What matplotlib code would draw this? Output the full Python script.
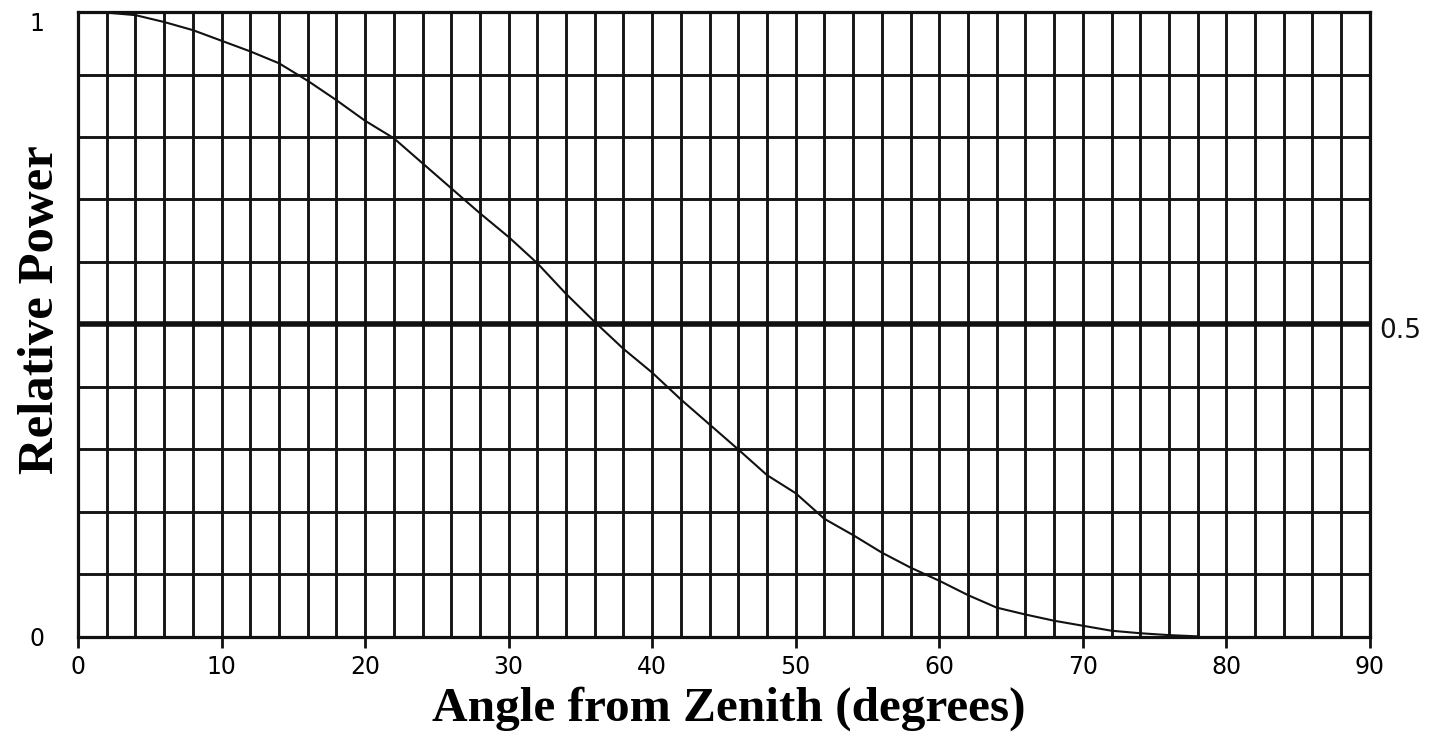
import matplotlib
matplotlib.use("Agg")
import matplotlib.pyplot as plt
import matplotlib.transforms as mtransforms

# Data
angle_deg = [0, 2, 4, 6, 8, 10, 12, 14, 16, 18, 20, 22, 24, 26, 28, 30, 32, 34,
             36, 38, 40, 42, 44, 46, 48, 50, 52, 54, 56, 58, 60, 62, 64, 66,
             68, 70, 72, 74, 76, 78]
rel_power = [1.0, 0.999, 0.995, 0.984, 0.971, 0.954, 0.937, 0.918, 0.89,
             0.859, 0.826, 0.798, 0.758, 0.718, 0.678, 0.64, 0.598, 0.549,
             0.504, 0.461, 0.423, 0.38, 0.34, 0.30, 0.259, 0.23, 0.189, 0.163,
             0.135, 0.111, 0.09, 0.067, 0.047, 0.036, 0.026, 0.018, 0.010,
             0.006, 0.003, 0.001]

x_major = [0, 10, 20, 30, 40, 50, 60, 70, 80, 90]
x_minor = list(range(0, 91, 2))
y_grid = [0, 0.1, 0.2, 0.3, 0.4, 0.5, 0.6, 0.7, 0.8, 0.9, 1.0]
y_labels = {0: "0", 1.0: "1"}
half_level = 0.5

fig = plt.figure(figsize=(14.42, 7.32), dpi=100)
ax = fig.add_axes([0.0541, 0.1298, 0.8959, 0.8538])

ax.set_xlim(0, 90)
ax.set_ylim(0, 1)

# grid
ax.set_xticks(x_minor, minor=True)
ax.set_xticks(x_major)
ax.set_yticks(y_grid)
ax.grid(which="both", axis="x", color="#151515", linewidth=2.1)
ax.grid(which="major", axis="y", color="#151515", linewidth=2.1)
ax.axhline(half_level, color="#111111", linewidth=4.0, zorder=3)

ax.plot(angle_deg, rel_power, color="#111111", linewidth=1.5, zorder=4)

for s in ax.spines.values():
    s.set_linewidth(2.3)
    s.set_color("#111111")

ax.tick_params(axis="x", which="major", direction="out", length=8, width=2,
               color="#111111", labelsize=17, pad=5)
ax.tick_params(axis="x", which="minor", length=0)
ax.tick_params(axis="y", length=0, labelsize=17, pad=24)
ax.set_xticklabels([str(v) for v in x_major])
ax.set_yticklabels([y_labels.get(round(v, 1), "") for v in y_grid])
for lbl in ax.get_yticklabels():
    if lbl.get_text() == "1":
        lbl.set_verticalalignment("top")
        lbl.set_y(0.99)

trans = mtransforms.blended_transform_factory(ax.transAxes, ax.transData)
ax.text(1.007, half_level - 0.01, "0.5", transform=trans, fontsize=19,
        va="center", ha="left", color="#111111")

ax.set_xlabel("Angle from Zenith (degrees)", fontsize=35.5, fontweight="bold",
              family="Liberation Serif")
ax.set_ylabel("Relative Power", fontsize=36.5, fontweight="bold",
              family="Liberation Serif")
ax.xaxis.label.set_verticalalignment("baseline")
ax.xaxis.set_label_coords(0.504, -0.134)
ax.yaxis.set_label_coords(-0.011, 0.523)

fig.savefig("out.png", dpi=100, facecolor="white")
